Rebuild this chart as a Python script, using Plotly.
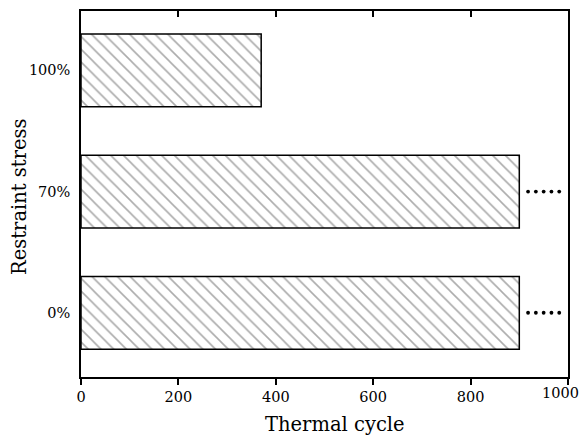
import plotly.graph_objects as go

# Thermal cycles reached under each restraint stress level
categories = ["0%", "70%", "100%"]
cycles = [900, 900, 370]
# Specimens that had not failed when the test stopped (run-out)
runout = [True, True, False]
x_ticks = [0, 200, 400, 600, 800, 1000]

FONT = "DejaVu Serif"

fig = go.Figure()

fig.add_trace(go.Bar(
    y=categories,
    x=cycles,
    orientation="h",
    width=0.6,
    marker=dict(
        color="white",
        line=dict(color="black", width=1.5),
        pattern=dict(shape="\\", fgcolor="#5a5a5a", bgcolor="white",
                     size=9, solidity=0.18, fillmode="overlay"),
    ),
    showlegend=False,
))

# Dotted continuation marks after bars of run-out specimens
dot_offsets = [18, 34, 50, 66, 82]
dx, dy = [], []
for cat, val, ro in zip(categories, cycles, runout):
    if ro:
        for off in dot_offsets:
            dx.append(val + off)
            dy.append(cat)
fig.add_trace(go.Scatter(
    x=dx, y=dy, mode="markers",
    marker=dict(color="black", size=3.8, symbol="circle"),
    cliponaxis=False, showlegend=False,
))

# Invisible trace that carries the top axis
fig.add_trace(go.Scatter(x=[0, 1000], y=["0%", "0%"], xaxis="x2",
                         mode="markers", marker=dict(opacity=0),
                         showlegend=False, hoverinfo="skip"))

# The last tick label sits at the page edge, so it is right-aligned there
tick_text = [str(v) for v in x_ticks[:-1]] + [""]
fig.add_annotation(
    x=x_ticks[-1], xref="x", y=0, yref="paper", yshift=-16,
    text=str(x_ticks[-1]), showarrow=False,
    xanchor="right", yanchor="middle", xshift=13,
    font=dict(family=FONT, size=14.5, color="black"),
)

# Axis titles placed as annotations for exact pixel placement
fig.add_annotation(
    x=0.5, xref="paper", y=0, yref="paper", xshift=10, yshift=-47,
    text="Thermal cycle", showarrow=False,
    xanchor="center", yanchor="middle",
    font=dict(family=FONT, size=19.5, color="black"),
)
fig.add_annotation(
    x=0, xref="paper", y=0.5, yref="paper", xshift=-62, yshift=-3,
    text="Restraint stress", showarrow=False, textangle=-90,
    xanchor="center", yanchor="middle",
    font=dict(family=FONT, size=19.5, color="black"),
)

fig.update_layout(
    width=582, height=437,
    margin=dict(l=81, r=14, t=11, b=60),
    paper_bgcolor="white", plot_bgcolor="white",
    font=dict(family=FONT, color="black", size=14.5),
    xaxis=dict(
        range=[0, 1000], tickvals=x_ticks, ticktext=tick_text,
        automargin=False,
        ticks="outside", ticklen=6, tickwidth=1.5, tickcolor="black",
        showline=True, linecolor="black", linewidth=1.5, mirror=True,
        showgrid=False, zeroline=False,
        tickfont=dict(family=FONT, size=14.5),
    ),
    xaxis2=dict(
        overlaying="x", side="top", matches="x", range=[0, 1000],
        tickvals=x_ticks[1:-1], ticks="inside", ticklen=6, tickwidth=1.5,
        tickcolor="black", showticklabels=False, showgrid=False,
        zeroline=False, showline=False, automargin=False,
    ),
    yaxis=dict(
        categoryorder="array", categoryarray=categories,
        range=[-0.53, 2.49], automargin=False,
        ticks="", ticklabelstandoff=6,
        showline=True, linecolor="black", linewidth=1.5, mirror=True,
        showgrid=False, zeroline=False,
        tickfont=dict(family=FONT, size=14.5),
    ),
    bargap=0.4,
)

fig.write_html("out.html")
